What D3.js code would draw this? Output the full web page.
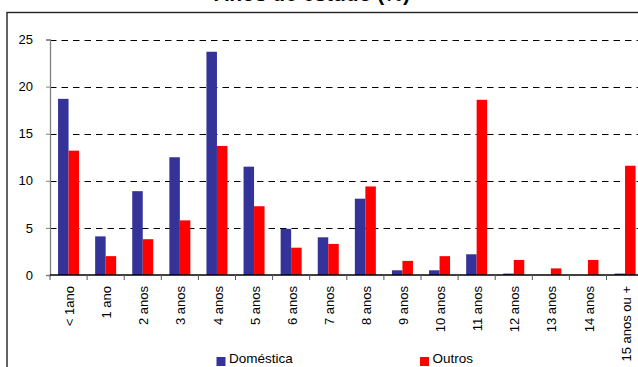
<!DOCTYPE html>
<html>
<head>
<meta charset="utf-8">
<script src="https://cdn.jsdelivr.net/npm/d3@7"></script>
<style>
  html, body { margin: 0; padding: 0; background: #fff; }
  svg { display: block; }
  text { font-family: "Liberation Sans", Arial, sans-serif; }
</style>
</head>
<body>
<svg id="chart" width="638" height="367"></svg>
<script>
// Distribution by years of schooling (%)
const categories = ["< 1ano", "1 ano", "2 anos", "3 anos", "4 anos", "5 anos", "6 anos", "7 anos",
  "8 anos", "9 anos", "10 anos", "11 anos", "12 anos", "13 anos", "14 anos", "15 anos ou +"];
const seriesNames = ["Doméstica", "Outros"];
const domestica = [18.7, 4.1, 8.9, 12.5, 23.7, 11.5, 4.9, 4.0, 8.1, 0.5, 0.5, 2.2, 0.15, 0.0, 0.0, 0.15];
const outros = [13.2, 2.0, 3.8, 5.8, 13.7, 7.3, 2.9, 3.3, 9.4, 1.5, 2.0, 18.6, 1.6, 0.7, 1.6, 11.6];
const yTicks = [0, 5, 10, 15, 20, 25];
const colors = ["#333399", "#ff0000"];
const title = "Anos de estudo (%)";

const svg = d3.select("#chart");

// outer chart frame
svg.append("rect")
  .attr("x", 7).attr("y", 12.5)
  .attr("width", 700).attr("height", 400)
  .attr("fill", "none").attr("stroke", "#222").attr("stroke-width", 1.4);

// title (sits above the frame, mostly outside the canvas)
svg.append("text")
  .attr("x", 312).attr("y", 0.5)
  .attr("text-anchor", "middle")
  .attr("font-weight", "bold")
  .attr("font-size", 21)
  .attr("fill", "#000")
  .text(title);

const plotLeft = 50, plotTop = 39.5, plotBottom = 275, bandW = 37.1;
const x0 = d3.scaleBand().domain(categories)
  .range([plotLeft, plotLeft + bandW * categories.length]).padding(0);
const x1 = d3.scaleBand().domain(seriesNames)
  .range([x0.bandwidth() * 0.217, x0.bandwidth() * 0.783]).padding(0);
const y = d3.scaleLinear().domain([0, 25]).range([plotBottom, plotTop]);

// dashed gridlines
svg.append("g")
  .selectAll("line")
  .data(yTicks.filter(d => d > 0))
  .join("line")
  .attr("x1", plotLeft).attr("x2", x0.range()[1])
  .attr("y1", d => Math.round(y(d)) + 0.5).attr("y2", d => Math.round(y(d)) + 0.5)
  .attr("stroke", "#000").attr("stroke-width", 1)
  .attr("stroke-dasharray", "6.5,5");

// bars
const values = [domestica, outros];
const rows = categories.map((c, i) => ({ c, v: seriesNames.map((s, j) => ({ s, j, val: values[j][i] })) }));
svg.append("g")
  .selectAll("g")
  .data(rows)
  .join("g")
  .attr("transform", d => `translate(${x0(d.c)},0)`)
  .selectAll("rect")
  .data(d => d.v)
  .join("rect")
  .attr("x", d => x1(d.s))
  .attr("width", x1.bandwidth())
  .attr("y", d => y(d.val))
  .attr("height", d => y(0) - y(d.val))
  .attr("fill", d => colors[d.j]);

// y axis
const yAxis = svg.append("g")
  .attr("transform", `translate(${plotLeft},0)`)
  .call(d3.axisLeft(y).tickValues(yTicks).tickSize(4).tickPadding(13));
yAxis.select(".domain").attr("stroke", "#808080").attr("stroke-width", 1.3);
yAxis.selectAll(".tick line").attr("stroke", "#808080");
yAxis.selectAll(".tick text").attr("font-size", 13).attr("fill", "#000")
  .attr("font-family", "Liberation Sans, Arial, sans-serif");

// x axis: ticks at category boundaries, rotated labels
const xAxis = svg.append("g").attr("transform", `translate(0,${plotBottom})`);
xAxis.append("line")
  .attr("x1", plotLeft).attr("x2", x0.range()[1])
  .attr("stroke", "#000").attr("stroke-width", 1.3);
xAxis.selectAll("line.tk")
  .data(categories)
  .join("line")
  .attr("class", "tk")
  .attr("x1", d => x0(d)).attr("x2", d => x0(d))
  .attr("y1", 0).attr("y2", 5)
  .attr("stroke", "#555");
xAxis.selectAll("text")
  .data(categories)
  .join("text")
  .attr("transform", d => `translate(${x0(d) + x0.bandwidth() / 2 + 1},${11}) rotate(-90)`)
  .attr("text-anchor", "end")
  .attr("dy", "0.35em")
  .attr("font-size", 13)
  .attr("fill", "#000")
  .text(d => d);

// legend
const legend = svg.append("g");
const legendX = [216.5, 420];
seriesNames.forEach((s, i) => {
  legend.append("rect")
    .attr("x", legendX[i]).attr("y", 357)
    .attr("width", 9).attr("height", 9)
    .attr("fill", colors[i]);
  legend.append("text")
    .attr("x", legendX[i] + 12.5).attr("y", 363)
    .attr("font-size", 13.5)
    .attr("fill", "#000")
    .text(s);
});
</script>
</body>
</html>
